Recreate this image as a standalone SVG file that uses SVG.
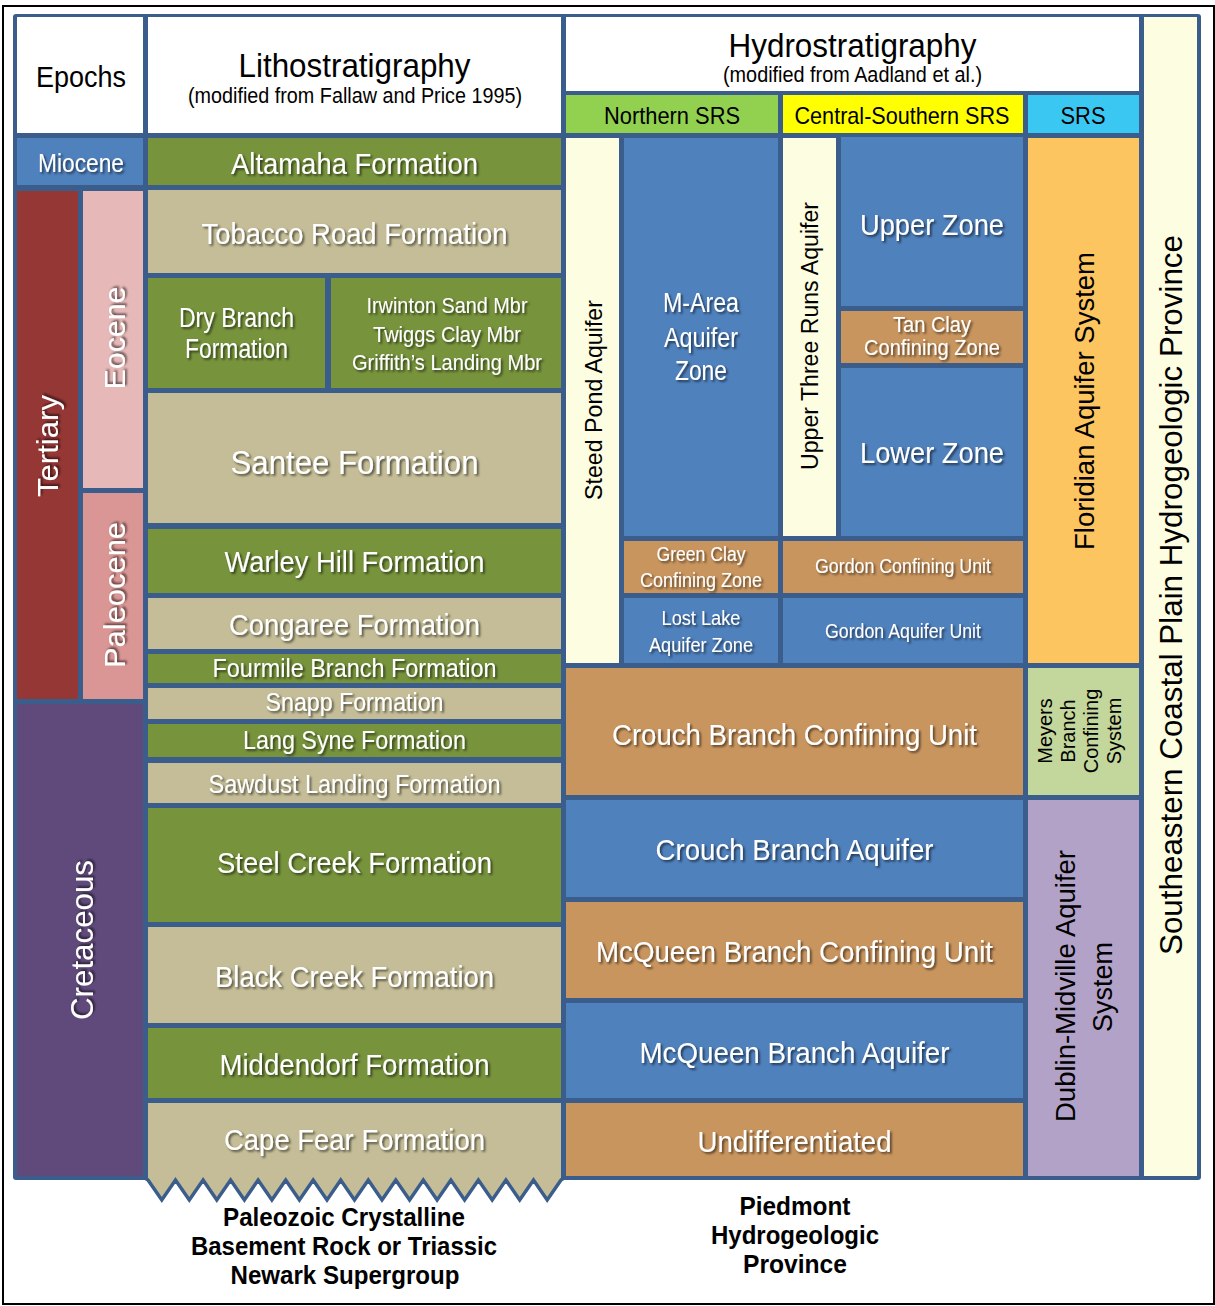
<svg xmlns="http://www.w3.org/2000/svg" width="1215" height="1306" viewBox="0 0 1215 1306">
<defs>
<filter id="sh" x="-10%" y="-40%" width="125%" height="190%">
<feDropShadow dx="1.8" dy="1.8" stdDeviation="1" flood-color="#000" flood-opacity="0.6"/>
</filter>
<style>
.frame{fill:#3b5d8c}
.wh{fill:#ffffff}
.bl{fill:#4f81bd}
.gr{fill:#77933c}
.tn{fill:#c4bd97}
.br{fill:#c9955e}
.cr{fill:#fdfde1}
text{font-family:'Liberation Sans Narrow','Arial Narrow','Liberation Sans',Arial,sans-serif;text-anchor:middle}
.w{fill:#ffffff;filter:url(#sh)}
.k{fill:#000000}
.v{font-family:'Liberation Sans',Arial,sans-serif;dominant-baseline:central}
.b{font-weight:bold}
</style>
</defs>
<rect x="3" y="6" width="1211" height="1298" fill="#ffffff" stroke="#000" stroke-width="2"/>
<rect class="frame" x="13" y="14" width="1188" height="1166" rx="3"/>

<g id="hdr-epochs"><rect class="wh" x="17" y="17" width="126" height="116"/>
<text class="k" x="81" y="87" font-size="30" textLength="90" lengthAdjust="spacingAndGlyphs">Epochs</text></g>
<g id="hdr-litho"><rect class="wh" x="148" y="17" width="413" height="116"/>
<text class="k" x="354.5" y="77" font-size="34" textLength="232" lengthAdjust="spacingAndGlyphs">Lithostratigraphy</text>
<text class="k" x="355" y="103" font-size="22" textLength="334" lengthAdjust="spacingAndGlyphs">(modified from Fallaw and Price 1995)</text></g>
<g id="hdr-hydro"><rect class="wh" x="566" y="17" width="573" height="74"/>
<text class="k" x="852.5" y="57" font-size="34" textLength="248" lengthAdjust="spacingAndGlyphs">Hydrostratigraphy</text>
<text class="k" x="852.5" y="82" font-size="22" textLength="259" lengthAdjust="spacingAndGlyphs">(modified from Aadland et al.)</text></g>
<g id="hdr-northern"><rect x="566" y="95" width="212" height="38" fill="#92d050"/>
<text class="k" x="672" y="124" font-size="24" textLength="136" lengthAdjust="spacingAndGlyphs">Northern SRS</text></g>
<g id="hdr-central"><rect x="783" y="95" width="240" height="38" fill="#ffff00"/>
<text class="k" x="902" y="124" font-size="24" textLength="215" lengthAdjust="spacingAndGlyphs">Central-Southern SRS</text></g>
<g id="hdr-srs"><rect x="1028" y="95" width="111" height="38" fill="#3ac8f3"/>
<text class="k" x="1083" y="124" font-size="24" textLength="45" lengthAdjust="spacingAndGlyphs">SRS</text></g>
<g id="secp"><rect class="cr" x="1144" y="17" width="53" height="1159"/>
<text class="k v" transform="translate(1171,595) rotate(-90)" font-size="31" textLength="720" lengthAdjust="spacingAndGlyphs">Southeastern Coastal Plain Hydrogeologic Province</text></g>

<g id="miocene"><rect class="bl" x="17" y="138" width="126" height="47"/>
<text class="w" x="81" y="172" font-size="26" textLength="86" lengthAdjust="spacingAndGlyphs">Miocene</text></g>
<g id="tertiary"><rect x="17" y="191" width="61" height="508" fill="#953735"/>
<text class="w v" transform="translate(47,446) rotate(-90)" font-size="30" textLength="102" lengthAdjust="spacingAndGlyphs">Tertiary</text></g>
<g id="eocene"><rect x="83" y="191" width="60" height="297" fill="#e6b9b8"/>
<text class="w v" transform="translate(114,338) rotate(-90)" font-size="30" textLength="103" lengthAdjust="spacingAndGlyphs">Eocene</text></g>
<g id="paleocene"><rect x="83" y="493" width="60" height="206" fill="#d99694"/>
<text class="w v" transform="translate(114,595) rotate(-90)" font-size="30" textLength="146" lengthAdjust="spacingAndGlyphs">Paleocene</text></g>
<g id="cretaceous"><rect x="17" y="704" width="126" height="472" fill="#604a7b"/>
<text class="w v" transform="translate(82,940) rotate(-90)" font-size="32" textLength="160" lengthAdjust="spacingAndGlyphs">Cretaceous</text></g>

<g id="altamaha"><rect class="gr" x="148" y="138" width="413" height="47"/>
<text class="w" x="354.5" y="174" font-size="30" textLength="247" lengthAdjust="spacingAndGlyphs">Altamaha Formation</text></g>
<g id="tobacco"><rect class="tn" x="148" y="190" width="413" height="83"/>
<text class="w" x="354.5" y="244" font-size="29" textLength="306" lengthAdjust="spacingAndGlyphs">Tobacco Road Formation</text></g>
<g id="drybranch"><rect class="gr" x="148" y="278" width="177" height="110"/>
<text class="w" x="236.5" y="327" font-size="27" textLength="115" lengthAdjust="spacingAndGlyphs">Dry Branch</text>
<text class="w" x="236.5" y="358" font-size="27" textLength="103" lengthAdjust="spacingAndGlyphs">Formation</text></g>
<g id="members"><rect class="gr" x="331" y="278" width="230" height="110"/>
<text class="w" x="447" y="313" font-size="22" textLength="161" lengthAdjust="spacingAndGlyphs">Irwinton Sand Mbr</text>
<text class="w" x="447" y="342" font-size="22" textLength="148" lengthAdjust="spacingAndGlyphs">Twiggs Clay Mbr</text>
<text class="w" x="447" y="370" font-size="22" textLength="190" lengthAdjust="spacingAndGlyphs">Griffith’s Landing Mbr</text></g>
<g id="santee"><rect class="tn" x="148" y="393" width="413" height="130"/>
<text class="w" x="354.5" y="474" font-size="34" textLength="248" lengthAdjust="spacingAndGlyphs">Santee Formation</text></g>
<g id="warley"><rect class="gr" x="148" y="529" width="413" height="64"/>
<text class="w" x="354.5" y="572" font-size="30" textLength="260" lengthAdjust="spacingAndGlyphs">Warley Hill Formation</text></g>
<g id="congaree"><rect class="tn" x="148" y="598" width="413" height="51"/>
<text class="w" x="354.5" y="635" font-size="30" textLength="251" lengthAdjust="spacingAndGlyphs">Congaree Formation</text></g>
<g id="fourmile"><rect class="gr" x="148" y="654" width="413" height="29"/>
<text class="w" x="354.5" y="677" font-size="26" textLength="284" lengthAdjust="spacingAndGlyphs">Fourmile Branch Formation</text></g>
<g id="snapp"><rect class="tn" x="148" y="688" width="413" height="31"/>
<text class="w" x="354.5" y="711" font-size="26" textLength="178" lengthAdjust="spacingAndGlyphs">Snapp Formation</text></g>
<g id="langsyne"><rect class="gr" x="148" y="724" width="413" height="33"/>
<text class="w" x="354.5" y="749" font-size="26" textLength="223" lengthAdjust="spacingAndGlyphs">Lang Syne Formation</text></g>
<g id="sawdust"><rect class="tn" x="148" y="763" width="413" height="40"/>
<text class="w" x="354.5" y="793" font-size="26" textLength="292" lengthAdjust="spacingAndGlyphs">Sawdust Landing Formation</text></g>
<g id="steelcreek"><rect class="gr" x="148" y="808" width="413" height="114"/>
<text class="w" x="354.5" y="873" font-size="30" textLength="275" lengthAdjust="spacingAndGlyphs">Steel Creek Formation</text></g>
<g id="blackcreek"><rect class="tn" x="148" y="927" width="413" height="96"/>
<text class="w" x="354.5" y="987" font-size="30" textLength="279" lengthAdjust="spacingAndGlyphs">Black Creek Formation</text></g>
<g id="middendorf"><rect class="gr" x="148" y="1028" width="413" height="70"/>
<text class="w" x="354.5" y="1075" font-size="30" textLength="270" lengthAdjust="spacingAndGlyphs">Middendorf Formation</text></g>
<g id="capefear">
<path class="tn" d="M148,1103 H561 V1180 L547.2,1200 L533.5,1180 L519.7,1200 L505.9,1180 L492.2,1200 L478.4,1180 L464.6,1200 L450.9,1180 L437.1,1200 L423.3,1180 L409.6,1200 L395.8,1180 L382,1200 L368.3,1180 L354.5,1200 L340.7,1180 L327,1200 L313.2,1180 L299.4,1200 L285.7,1180 L271.9,1200 L258.1,1180 L244.4,1200 L230.6,1180 L216.8,1200 L203.1,1180 L189.3,1200 L175.5,1180 L161.8,1200 L148,1180 Z"/>
<polyline fill="none" stroke="#3b5d8c" stroke-width="3.5" stroke-linejoin="miter" points="145,1178 148,1180 161.8,1200 175.5,1180 189.3,1200 203.1,1180 216.8,1200 230.6,1180 244.4,1200 258.1,1180 271.9,1200 285.7,1180 299.4,1200 313.2,1180 327,1200 340.7,1180 354.5,1200 368.3,1180 382,1200 395.8,1180 409.6,1200 423.3,1180 437.1,1200 450.9,1180 464.6,1200 478.4,1180 492.2,1200 505.9,1180 519.7,1200 533.5,1180 547.2,1200 561,1180 564,1178"/>
<text class="w" x="354.5" y="1150" font-size="30" textLength="261" lengthAdjust="spacingAndGlyphs">Cape Fear Formation</text></g>

<g id="steedpond"><rect class="cr" x="566" y="138" width="53" height="525"/>
<text class="k v" transform="translate(593,400) rotate(-90)" font-size="24" textLength="200" lengthAdjust="spacingAndGlyphs">Steed Pond Aquifer</text></g>
<g id="marea"><rect class="bl" x="624" y="138" width="154" height="398"/>
<text class="w" x="701" y="312" font-size="27" textLength="76" lengthAdjust="spacingAndGlyphs">M-Area</text>
<text class="w" x="701" y="347" font-size="27" textLength="74" lengthAdjust="spacingAndGlyphs">Aquifer</text>
<text class="w" x="701" y="380" font-size="27" textLength="52" lengthAdjust="spacingAndGlyphs">Zone</text></g>
<g id="greenclay"><rect class="br" x="624" y="541" width="154" height="52"/>
<text class="w" x="701" y="561" font-size="20" textLength="89" lengthAdjust="spacingAndGlyphs">Green Clay</text>
<text class="w" x="701" y="587" font-size="20" textLength="122" lengthAdjust="spacingAndGlyphs">Confining Zone</text></g>
<g id="lostlake"><rect class="bl" x="624" y="598" width="154" height="65"/>
<text class="w" x="701" y="625" font-size="20" textLength="79" lengthAdjust="spacingAndGlyphs">Lost Lake</text>
<text class="w" x="701" y="652" font-size="20" textLength="104" lengthAdjust="spacingAndGlyphs">Aquifer Zone</text></g>
<g id="upperthreeruns"><rect class="cr" x="783" y="138" width="53" height="398"/>
<text class="k v" transform="translate(810,336) rotate(-90)" font-size="23" textLength="268" lengthAdjust="spacingAndGlyphs">Upper Three Runs Aquifer</text></g>
<g id="upperzone"><rect class="bl" x="841" y="137" width="182" height="169"/>
<text class="w" x="932" y="235" font-size="30" textLength="144" lengthAdjust="spacingAndGlyphs">Upper Zone</text></g>
<g id="tanclay"><rect class="br" x="841" y="311" width="182" height="52"/>
<text class="w" x="932" y="332" font-size="22" textLength="78" lengthAdjust="spacingAndGlyphs">Tan Clay</text>
<text class="w" x="932" y="355" font-size="22" textLength="136" lengthAdjust="spacingAndGlyphs">Confining Zone</text></g>
<g id="lowerzone"><rect class="bl" x="841" y="368" width="182" height="168"/>
<text class="w" x="932" y="463" font-size="30" textLength="144" lengthAdjust="spacingAndGlyphs">Lower Zone</text></g>
<g id="gordonconf"><rect class="br" x="783" y="541" width="240" height="52"/>
<text class="w" x="903" y="573" font-size="20" textLength="176" lengthAdjust="spacingAndGlyphs">Gordon Confining Unit</text></g>
<g id="gordonaq"><rect class="bl" x="783" y="598" width="240" height="65"/>
<text class="w" x="903" y="638" font-size="20" textLength="156" lengthAdjust="spacingAndGlyphs">Gordon Aquifer Unit</text></g>
<g id="floridian"><rect x="1028" y="138" width="111" height="525" fill="#fcc55f"/>
<text class="k v" transform="translate(1085,401) rotate(-90)" font-size="27" textLength="298" lengthAdjust="spacingAndGlyphs">Floridian Aquifer System</text></g>
<g id="meyers"><rect x="1028" y="668" width="111" height="127" fill="#c3d69b"/>
<text class="k v" transform="translate(1045,731) rotate(-90)" font-size="20">Meyers</text>
<text class="k v" transform="translate(1068,731) rotate(-90)" font-size="20">Branch</text>
<text class="k v" transform="translate(1091,731) rotate(-90)" font-size="20">Confining</text>
<text class="k v" transform="translate(1114,731) rotate(-90)" font-size="20">System</text></g>
<g id="dublin"><rect x="1028" y="800" width="111" height="376" fill="#b3a2c7"/>
<text class="k v" transform="translate(1066,986) rotate(-90)" font-size="27" textLength="272" lengthAdjust="spacingAndGlyphs">Dublin-Midville Aquifer</text>
<text class="k v" transform="translate(1103,987) rotate(-90)" font-size="27">System</text></g>

<g id="crouchconf"><rect class="br" x="566" y="668" width="457" height="127"/>
<text class="w" x="794.5" y="745" font-size="30" textLength="365" lengthAdjust="spacingAndGlyphs">Crouch Branch Confining Unit</text></g>
<g id="crouchaq"><rect class="bl" x="566" y="800" width="457" height="97"/>
<text class="w" x="794.5" y="860" font-size="30" textLength="278" lengthAdjust="spacingAndGlyphs">Crouch Branch Aquifer</text></g>
<g id="mcqueenconf"><rect class="br" x="566" y="902" width="457" height="96"/>
<text class="w" x="794.5" y="962" font-size="30" textLength="397" lengthAdjust="spacingAndGlyphs">McQueen Branch Confining Unit</text></g>
<g id="mcqueenaq"><rect class="bl" x="566" y="1003" width="457" height="95"/>
<text class="w" x="794.5" y="1063" font-size="30" textLength="310" lengthAdjust="spacingAndGlyphs">McQueen Branch Aquifer</text></g>
<g id="undiff"><rect class="br" x="566" y="1103" width="457" height="73"/>
<text class="w" x="794.5" y="1152" font-size="30" textLength="194" lengthAdjust="spacingAndGlyphs">Undifferentiated</text></g>

<g id="basement">
<text class="k b" x="344" y="1226" font-size="25" textLength="242" lengthAdjust="spacingAndGlyphs">Paleozoic Crystalline</text>
<text class="k b" x="344" y="1255" font-size="25" textLength="306" lengthAdjust="spacingAndGlyphs">Basement Rock or Triassic</text>
<text class="k b" x="345" y="1284" font-size="25" textLength="229" lengthAdjust="spacingAndGlyphs">Newark Supergroup</text></g>
<g id="piedmont">
<text class="k b" x="795" y="1215" font-size="25" textLength="111" lengthAdjust="spacingAndGlyphs">Piedmont</text>
<text class="k b" x="795" y="1244" font-size="25" textLength="168" lengthAdjust="spacingAndGlyphs">Hydrogeologic</text>
<text class="k b" x="795" y="1273" font-size="25" textLength="104" lengthAdjust="spacingAndGlyphs">Province</text></g>
<g id="connectors"/>
</svg>
